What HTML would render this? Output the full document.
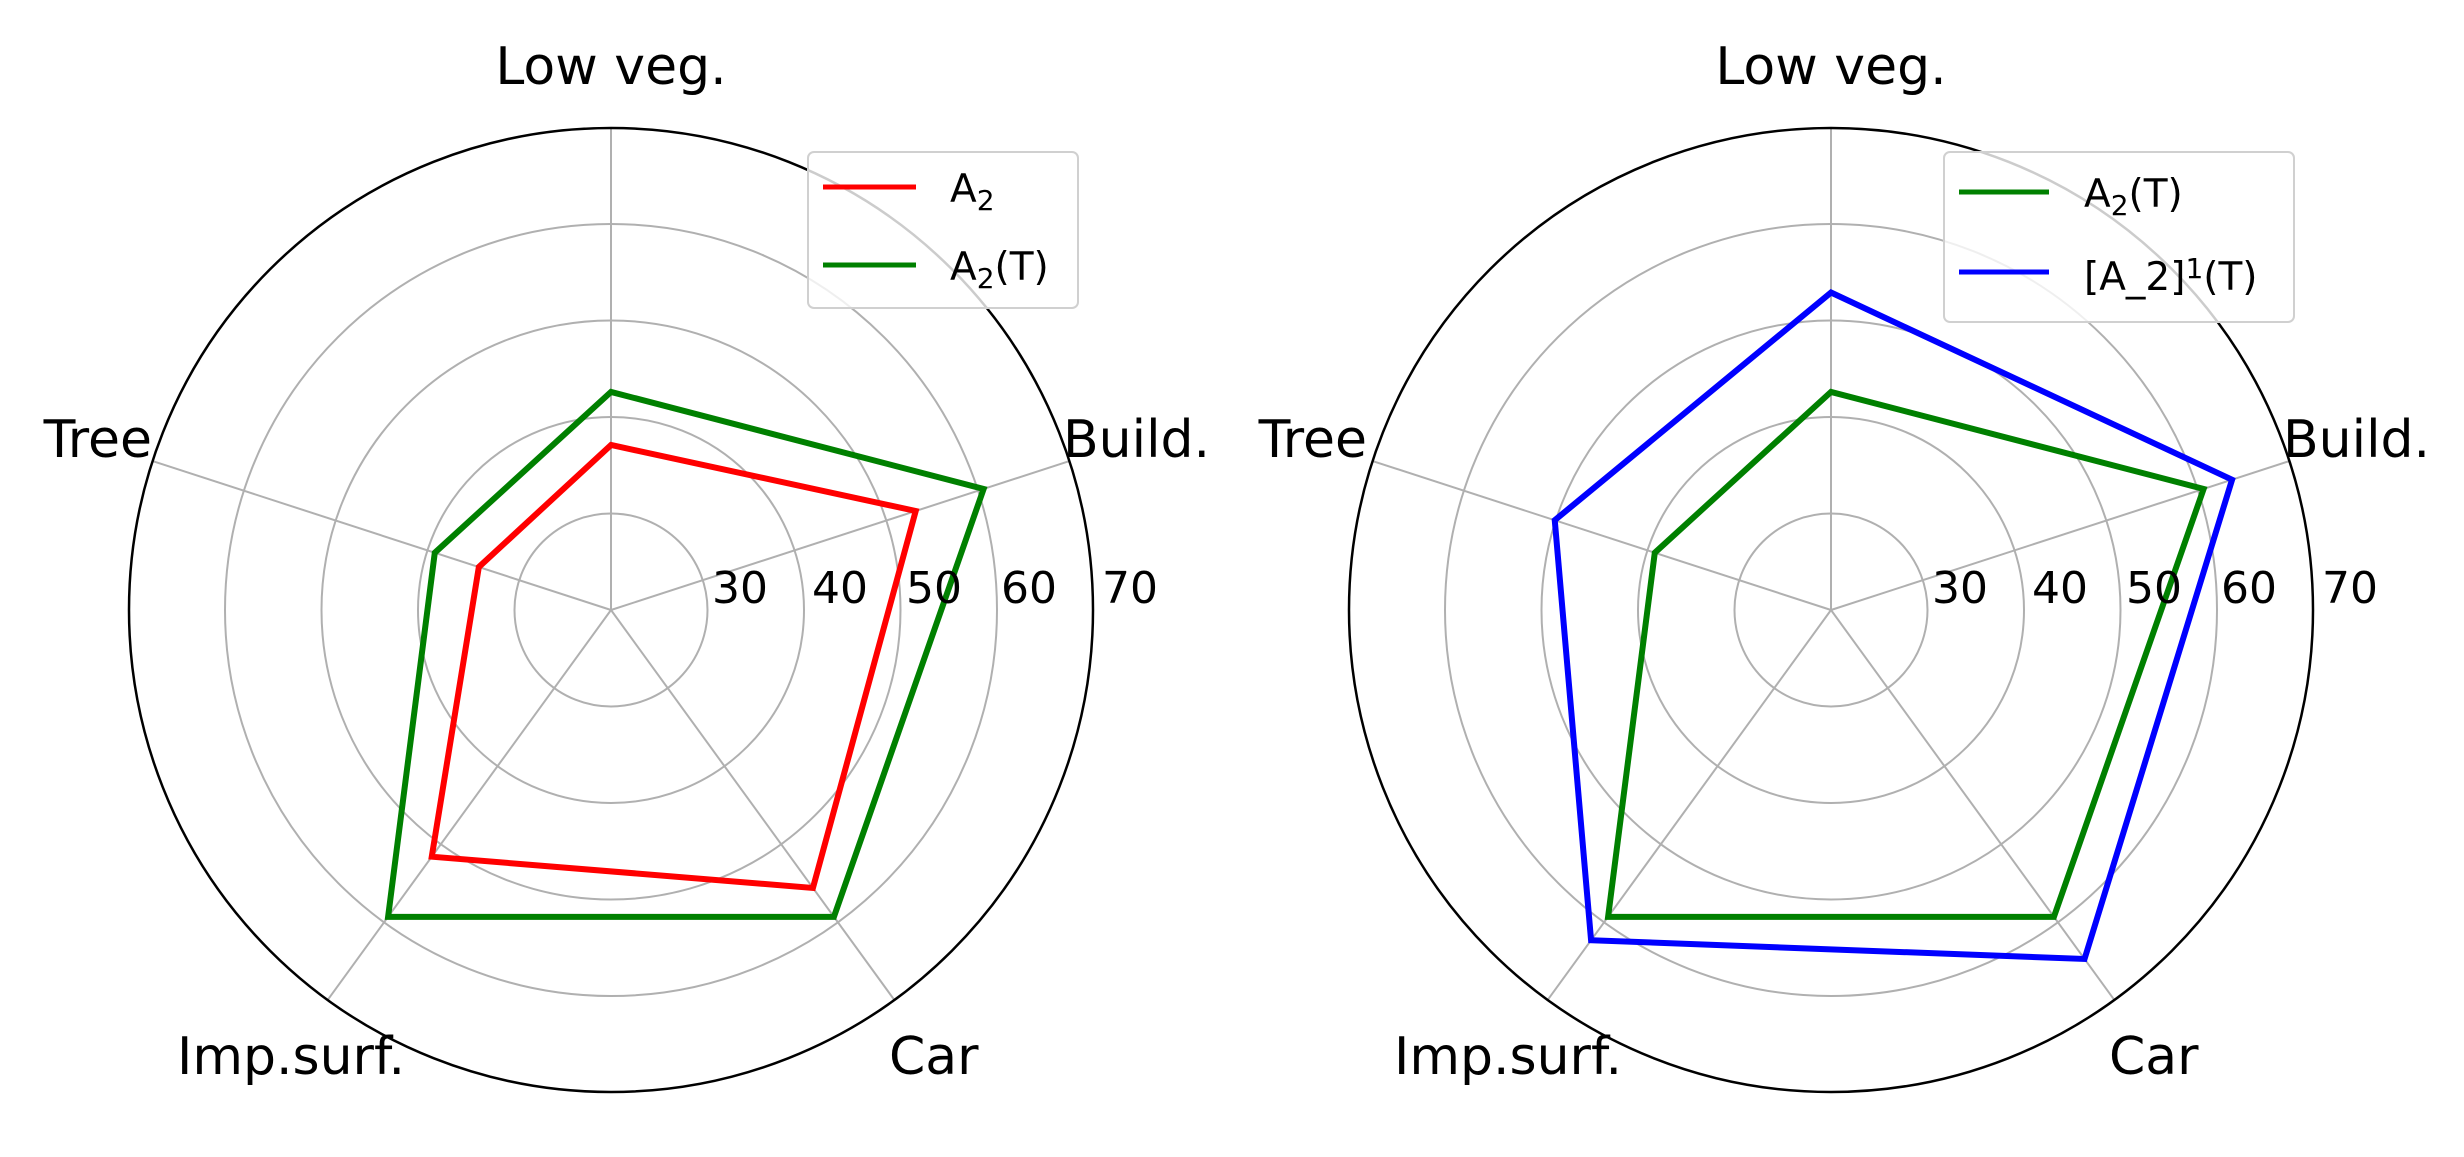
<!DOCTYPE html>
<html><head><meta charset="utf-8"><style>
html,body{margin:0;padding:0;background:#fff;}
svg{display:block;}
text{font-family:"DejaVu Sans","Liberation Sans",sans-serif;fill:#000;}
</style></head><body>
<svg id="s" width="2464" height="1157" viewBox="0 0 2464 1157" xmlns="http://www.w3.org/2000/svg">
<g id="g"></g>
<!-- left labels -->
<text x="611" y="84" font-size="52" text-anchor="middle">Low veg.</text>
<text x="1063" y="457" font-size="52">Build.</text>
<text x="152" y="457" font-size="52" text-anchor="end">Tree</text>
<text x="405" y="1074" font-size="52" text-anchor="end">Imp.surf.</text>
<text x="889" y="1074" font-size="52">Car</text>
<g font-size="44"><text x="712" y="603">30</text><text x="812" y="603">40</text><text x="906" y="603">50</text><text x="1001" y="603">60</text><text x="1102" y="603">70</text></g>
<!-- right labels -->
<text x="1831" y="84" font-size="52" text-anchor="middle">Low veg.</text>
<text x="2283" y="457" font-size="52">Build.</text>
<text x="1367" y="457" font-size="52" text-anchor="end">Tree</text>
<text x="1622" y="1074" font-size="52" text-anchor="end">Imp.surf.</text>
<text x="2109" y="1074" font-size="52">Car</text>
<g font-size="44"><text x="1932" y="603">30</text><text x="2032" y="603">40</text><text x="2126" y="603">50</text><text x="2221" y="603">60</text><text x="2322" y="603">70</text></g>
<!-- left legend -->
<rect x="808" y="152" width="270" height="156" rx="6" fill="#fff" fill-opacity="0.8" stroke="#d0d0d0" stroke-width="2"/>
<line x1="823" y1="187" x2="916" y2="187" stroke="#ff0000" stroke-width="5"/>
<line x1="823" y1="265" x2="916" y2="265" stroke="#008000" stroke-width="5"/>
<text x="950" y="202" font-size="39">A<tspan font-size="28" dy="8">2</tspan></text>
<text x="950" y="280" font-size="39">A<tspan font-size="28" dy="8">2</tspan><tspan dy="-8">(T)</tspan></text>
<!-- right legend -->
<rect x="1944" y="152" width="350" height="170" rx="6" fill="#fff" fill-opacity="0.8" stroke="#d0d0d0" stroke-width="2"/>
<line x1="1959" y1="192" x2="2049" y2="192" stroke="#008000" stroke-width="5"/>
<line x1="1959" y1="272" x2="2049" y2="272" stroke="#0000ff" stroke-width="5"/>
<text x="2084" y="207" font-size="39">A<tspan font-size="28" dy="8">2</tspan><tspan dy="-8">(T)</tspan></text>
<text x="2084" y="290" font-size="39">[A_2]<tspan font-size="28" dy="-12">1</tspan><tspan dy="12">(T)</tspan></text>
</svg>
<script>
(function(){
var g=document.getElementById('g'),NS='http://www.w3.org/2000/svg';
function el(t,a){var e=document.createElementNS(NS,t);for(var k in a)e.setAttribute(k,a[k]);g.appendChild(e);return e;}
var ang=[90,18,-54,-126,162],K=9.65,R=482;
function pt(cx,cy,v,a){var r=(v-20)*K,t=a*Math.PI/180;return [cx+r*Math.cos(t),cy-r*Math.sin(t)];}
function chart(cx,cy,series){
 for(var i=0;i<5;i++){var t=ang[i]*Math.PI/180;el('line',{x1:cx,y1:cy,x2:cx+R*Math.cos(t),y2:cy-R*Math.sin(t),stroke:'#b0b0b0','stroke-width':2});}
 [30,40,50,60].forEach(function(v){el('circle',{cx:cx,cy:cy,r:(v-20)*K,fill:'none',stroke:'#b0b0b0','stroke-width':2});});
 el('circle',{cx:cx,cy:cy,r:R,fill:'none',stroke:'#000','stroke-width':2.5});
 series.forEach(function(s){var p=s.v.map(function(v,i){return pt(cx,cy,v,ang[i]).join(',');});
  el('polygon',{points:p.join(' '),fill:'none',stroke:s.c,'stroke-width':6,'stroke-linejoin':'miter'});});
}
var red=[37.1,53.2,55.6,51.6,34.4],green=[42.6,60.6,59.3,59.3,39.2],blue=[52.9,63.7,64.7,62.3,50.1];
chart(611,610,[{v:red,c:'#ff0000'},{v:green,c:'#008000'}]);
chart(1831,610,[{v:green,c:'#008000'},{v:blue,c:'#0000ff'}]);
})();
</script>
</body></html>
